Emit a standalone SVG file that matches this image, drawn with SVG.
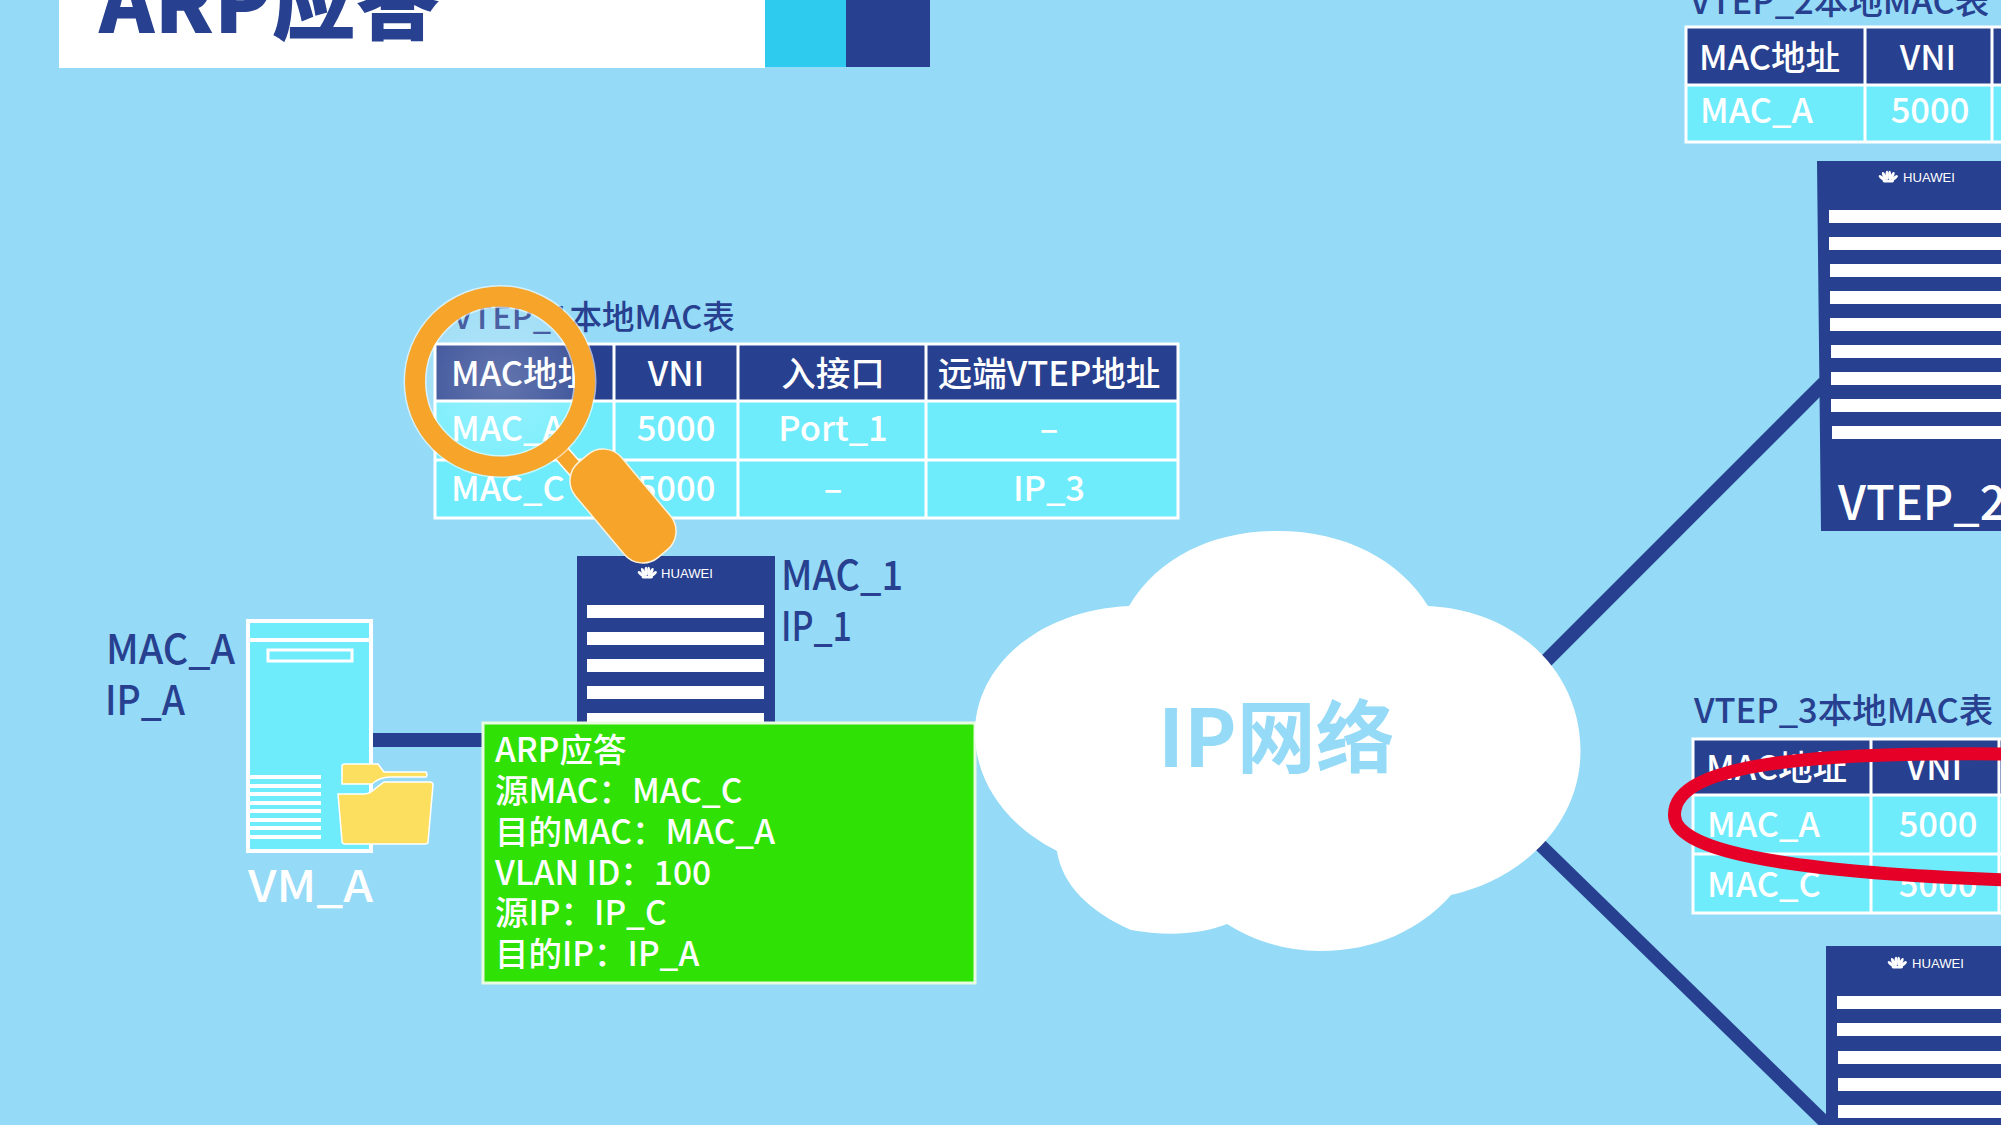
<svg xmlns="http://www.w3.org/2000/svg" width="2001" height="1125" viewBox="0 0 2001 1125">
<style>
text{font-family:"Noto Sans CJK SC","Noto Sans",sans-serif;font-weight:500}
.navy{fill:#27408f}
.w{fill:#fff}
.t{font-size:34.5px;fill:#fff}
.m{text-anchor:middle}
.ttl{font-size:34.5px;fill:#27408f}
.lbl{font-size:41px;fill:#27408f}
.gt{font-size:33.5px;fill:#fff}
.hdr{fill:#27408f}
.row{fill:#6eecfc}
.grid{stroke:#fff;stroke-width:3;fill:none}
.hw{font-size:13px;fill:#fff;font-family:"Liberation Sans",sans-serif;font-weight:normal}
.link{stroke:#27408f;fill:none}
</style>
<defs>
<g id="logo" fill="#fff">
<ellipse cx="-6" cy="1" rx="1.6" ry="4" transform="rotate(-50 -6 1)"/>
<ellipse cx="-3.6" cy="-1" rx="1.6" ry="4.4" transform="rotate(-25 -3.6 -1)"/>
<ellipse cx="-1" cy="-1.6" rx="1.5" ry="4.6"/>
<ellipse cx="1.6" cy="-1.6" rx="1.5" ry="4.6"/>
<ellipse cx="4.2" cy="-1" rx="1.6" ry="4.4" transform="rotate(25 4.2 -1)"/>
<ellipse cx="6.6" cy="1" rx="1.6" ry="4" transform="rotate(50 6.6 1)"/>
<ellipse cx="-2" cy="4" rx="3.4" ry="1.5"/>
<ellipse cx="2.6" cy="4" rx="3.4" ry="1.5"/>
</g>
<radialGradient id="lens" cx="0.5" cy="0.5" r="0.5"><stop offset="0" stop-color="#fff" stop-opacity="0.28"/><stop offset="1" stop-color="#fff" stop-opacity="0.12"/></radialGradient>
</defs>
<rect width="2001" height="1125" fill="#95daf6"/>

<g id="title">
<rect x="59" y="-5" width="706" height="73" fill="#fff"/>
<rect x="765" y="-5" width="82" height="72" fill="#2ecbef"/>
<rect x="846" y="-5" width="84" height="72" class="navy"/>
<text x="99" y="33" font-size="84" style="font-weight:900" class="navy">ARP应答</text>
</g>

<g id="connectors">
<line class="link" x1="372" y1="740" x2="600" y2="740" stroke-width="14"/>
<line class="link" x1="1540" y1="667" x2="1824" y2="383" stroke-width="14"/>
<line class="link" x1="1530" y1="835" x2="1840" y2="1137" stroke-width="13"/>
</g>

<g id="table-vtep1">
<text class="ttl" x="453" y="329" style="font-size:32.5px">VTEP_1本地MAC表</text>
<rect x="435" y="344" width="743" height="57" class="hdr"/>
<rect x="435" y="401" width="743" height="117" class="row"/>
<path class="grid" d="M435,344H1178V518H435ZM435,401H1178M435,460H1178M614,344V518M738,344V518M926,344V518"/>
<text class="t" x="451" y="386">MAC地址</text><text class="t m" x="676" y="386">VNI</text><text class="t m" x="833" y="386">入接口</text><text class="t m" x="1049" y="386">远端VTEP地址</text>
<text class="t" x="451" y="441">MAC_A</text><text class="t m" x="676" y="441">5000</text><text class="t m" x="833" y="441">Port_1</text><text class="t m" x="1049" y="441">–</text>
<text class="t" x="451" y="501">MAC_C</text><text class="t m" x="676" y="501">5000</text><text class="t m" x="833" y="501">–</text><text class="t m" x="1049" y="501">IP_3</text>
</g>

<g id="vtep1">
<rect x="577" y="556" width="198" height="180" class="navy"/>
<g class="w"><rect x="587" y="605" width="177" height="13"/><rect x="587" y="632" width="177" height="13"/><rect x="587" y="659" width="177" height="13"/><rect x="587" y="686" width="177" height="13"/><rect x="587" y="713" width="177" height="13"/></g>
<use href="#logo" x="647" y="573"/>
<text class="hw" x="661" y="578" textLength="52" lengthAdjust="spacingAndGlyphs">HUAWEI</text>
<text class="lbl" x="781" y="590" textLength="122" lengthAdjust="spacingAndGlyphs">MAC_1</text>
<text class="lbl" x="781" y="641" textLength="71" lengthAdjust="spacingAndGlyphs">IP_1</text>
</g>

<g id="magnifier">
<circle cx="500" cy="381.5" r="85" fill="url(#lens)"/>
<line x1="556" y1="447" x2="600" y2="497" stroke="#fff" stroke-width="18"/>
<line x1="556" y1="447" x2="600" y2="497" stroke="#f6a52a" stroke-width="15"/>
<rect x="561" y="476" width="124" height="60" rx="24" fill="#f6a52a" stroke="#fdf3dc" stroke-width="1.5" transform="rotate(50 623 506)"/>
<circle cx="500" cy="381.5" r="85" fill="none" stroke="#fff" stroke-width="23" opacity=".6"/>
<circle cx="500" cy="381.5" r="85" fill="none" stroke="#f6a52a" stroke-width="20"/>
</g>

<g id="vm-a">
<rect x="248" y="621" width="123" height="230" fill="#6eecfc" stroke="#fff" stroke-width="4"/>
<line x1="248" y1="640" x2="371" y2="640" stroke="#fff" stroke-width="4"/>
<rect x="268" y="650" width="84" height="11" fill="none" stroke="#fff" stroke-width="3"/>
<g stroke="#fff" stroke-width="4"><line x1="248" y1="777" x2="321" y2="777"/><line x1="248" y1="786" x2="321" y2="786"/><line x1="248" y1="794" x2="321" y2="794"/><line x1="248" y1="803" x2="321" y2="803"/><line x1="248" y1="811" x2="321" y2="811"/><line x1="248" y1="820" x2="321" y2="820"/><line x1="248" y1="828" x2="321" y2="828"/><line x1="248" y1="837" x2="321" y2="837"/></g>
<path d="M342,766Q342,764 345,764H378L384,772H426Q428,775 426,777H390Q380,777 372,784H342Z" fill="#fddf60" stroke="#fff" stroke-width="1.5"/>
<path d="M338,794H364Q370,794 376,788L384,782H430Q433,782 433,785L428,842Q428,844 425,844H345Q342,844 342,841Z" fill="#fddf60" stroke="#fff" stroke-width="1.5"/>
<text x="248" y="902" fill="#fff" font-size="44" textLength="125" lengthAdjust="spacingAndGlyphs">VM_A</text>
<text class="lbl" x="106" y="664" textLength="129" lengthAdjust="spacingAndGlyphs">MAC_A</text>
<text class="lbl" x="105" y="715" textLength="80" lengthAdjust="spacingAndGlyphs">IP_A</text>
</g>

<g id="arp-box">
<rect x="483" y="723" width="492" height="260" fill="#30e106" stroke="#e9fbe0" stroke-width="3"/>
<text class="gt" x="495" y="762">ARP应答</text>
<text class="gt" x="495" y="803">源MAC：MAC_C</text>
<text class="gt" x="495" y="844">目的MAC：MAC_A</text>
<text class="gt" x="495" y="885">VLAN ID：100</text>
<text class="gt" x="495" y="925">源IP：IP_C</text>
<text class="gt" x="495" y="966">目的IP：IP_A</text>
</g>

<g id="cloud">
<path d="M1129,606C1160,555 1215,531 1278,531C1345,531 1400,560 1428,606C1515,610 1580,670 1580.5,750C1581,825 1520,880 1451,895C1420,930 1375,951 1320,951C1285,951 1252,940 1227,924C1200,935 1165,936 1131,930C1090,912 1062,885 1057,851C1005,825 975,780 975,733C975,665 1040,610 1129,606Z" fill="#fff"/>
<text x="1158" y="767" font-size="79" style="font-weight:700" fill="#95daf6">IP网络</text>
</g>

<g id="table-vtep2">
<text class="ttl" x="1690" y="14">VTEP_2本地MAC表</text>
<rect x="1685" y="27" width="316" height="57" class="hdr"/>
<rect x="1685" y="84" width="316" height="59" class="row"/>
<path class="grid" d="M2010,27H1686V142H2010M1686,85H2010M1865,27V142M1992,27V142"/>
<text class="t" x="1699" y="70">MAC地址</text><text class="t m" x="1928" y="70">VNI</text>
<text class="t" x="1700" y="123">MAC_A</text><text class="t m" x="1930" y="123">5000</text>
</g>

<g id="vtep2">
<polygon points="1817,161 2010,161 2010,531 1821,531" class="navy"/>
<g class="w"><rect x="1829" y="210" width="180" height="13"/><rect x="1829" y="237" width="180" height="13"/><rect x="1830" y="264" width="180" height="13"/><rect x="1830" y="291" width="180" height="13"/><rect x="1830" y="318" width="180" height="13"/><rect x="1831" y="345" width="180" height="13"/><rect x="1831" y="372" width="180" height="13"/><rect x="1831" y="399" width="180" height="13"/><rect x="1832" y="426" width="180" height="13"/></g>
<use href="#logo" x="1888" y="177"/>
<text class="hw" x="1903" y="182" textLength="52" lengthAdjust="spacingAndGlyphs">HUAWEI</text>
<text x="1838" y="520" font-size="47" fill="#fff">VTEP_2</text>
</g>

<g id="table-vtep3">
<text class="ttl" x="1694" y="723">VTEP_3本地MAC表</text>
<rect x="1692" y="738" width="309" height="56" class="hdr"/>
<rect x="1692" y="794" width="309" height="120" class="row"/>
<path class="grid" d="M2010,739H1693V913H2010M1693,795H2010M1693,854H2010M1871,739V913M1999,739V913"/>
<text class="t" x="1706" y="780">MAC地址</text><text class="t m" x="1934" y="780">VNI</text>
<text class="t" x="1707" y="837">MAC_A</text><text class="t m" x="1938" y="837">5000</text>
<text class="t" x="1707" y="897">MAC_C</text><text class="t m" x="1938" y="897">5000</text>
<path id="highlight" d="M2010,754C1820,752 1674,762 1674.5,815C1674,848 1770,872 2010,880" fill="none" stroke="#e60028" stroke-width="13"/>
</g>

<g id="vtep3">
<rect x="1826" y="946" width="180" height="185" class="navy"/>
<g class="w"><rect x="1837" y="996" width="170" height="13"/><rect x="1837" y="1023" width="170" height="13"/><rect x="1838" y="1051" width="170" height="13"/><rect x="1838" y="1078" width="170" height="13"/><rect x="1838" y="1105" width="170" height="13"/></g>
<use href="#logo" x="1897" y="963"/>
<text class="hw" x="1912" y="968" textLength="52" lengthAdjust="spacingAndGlyphs">HUAWEI</text>
</g>
</svg>
